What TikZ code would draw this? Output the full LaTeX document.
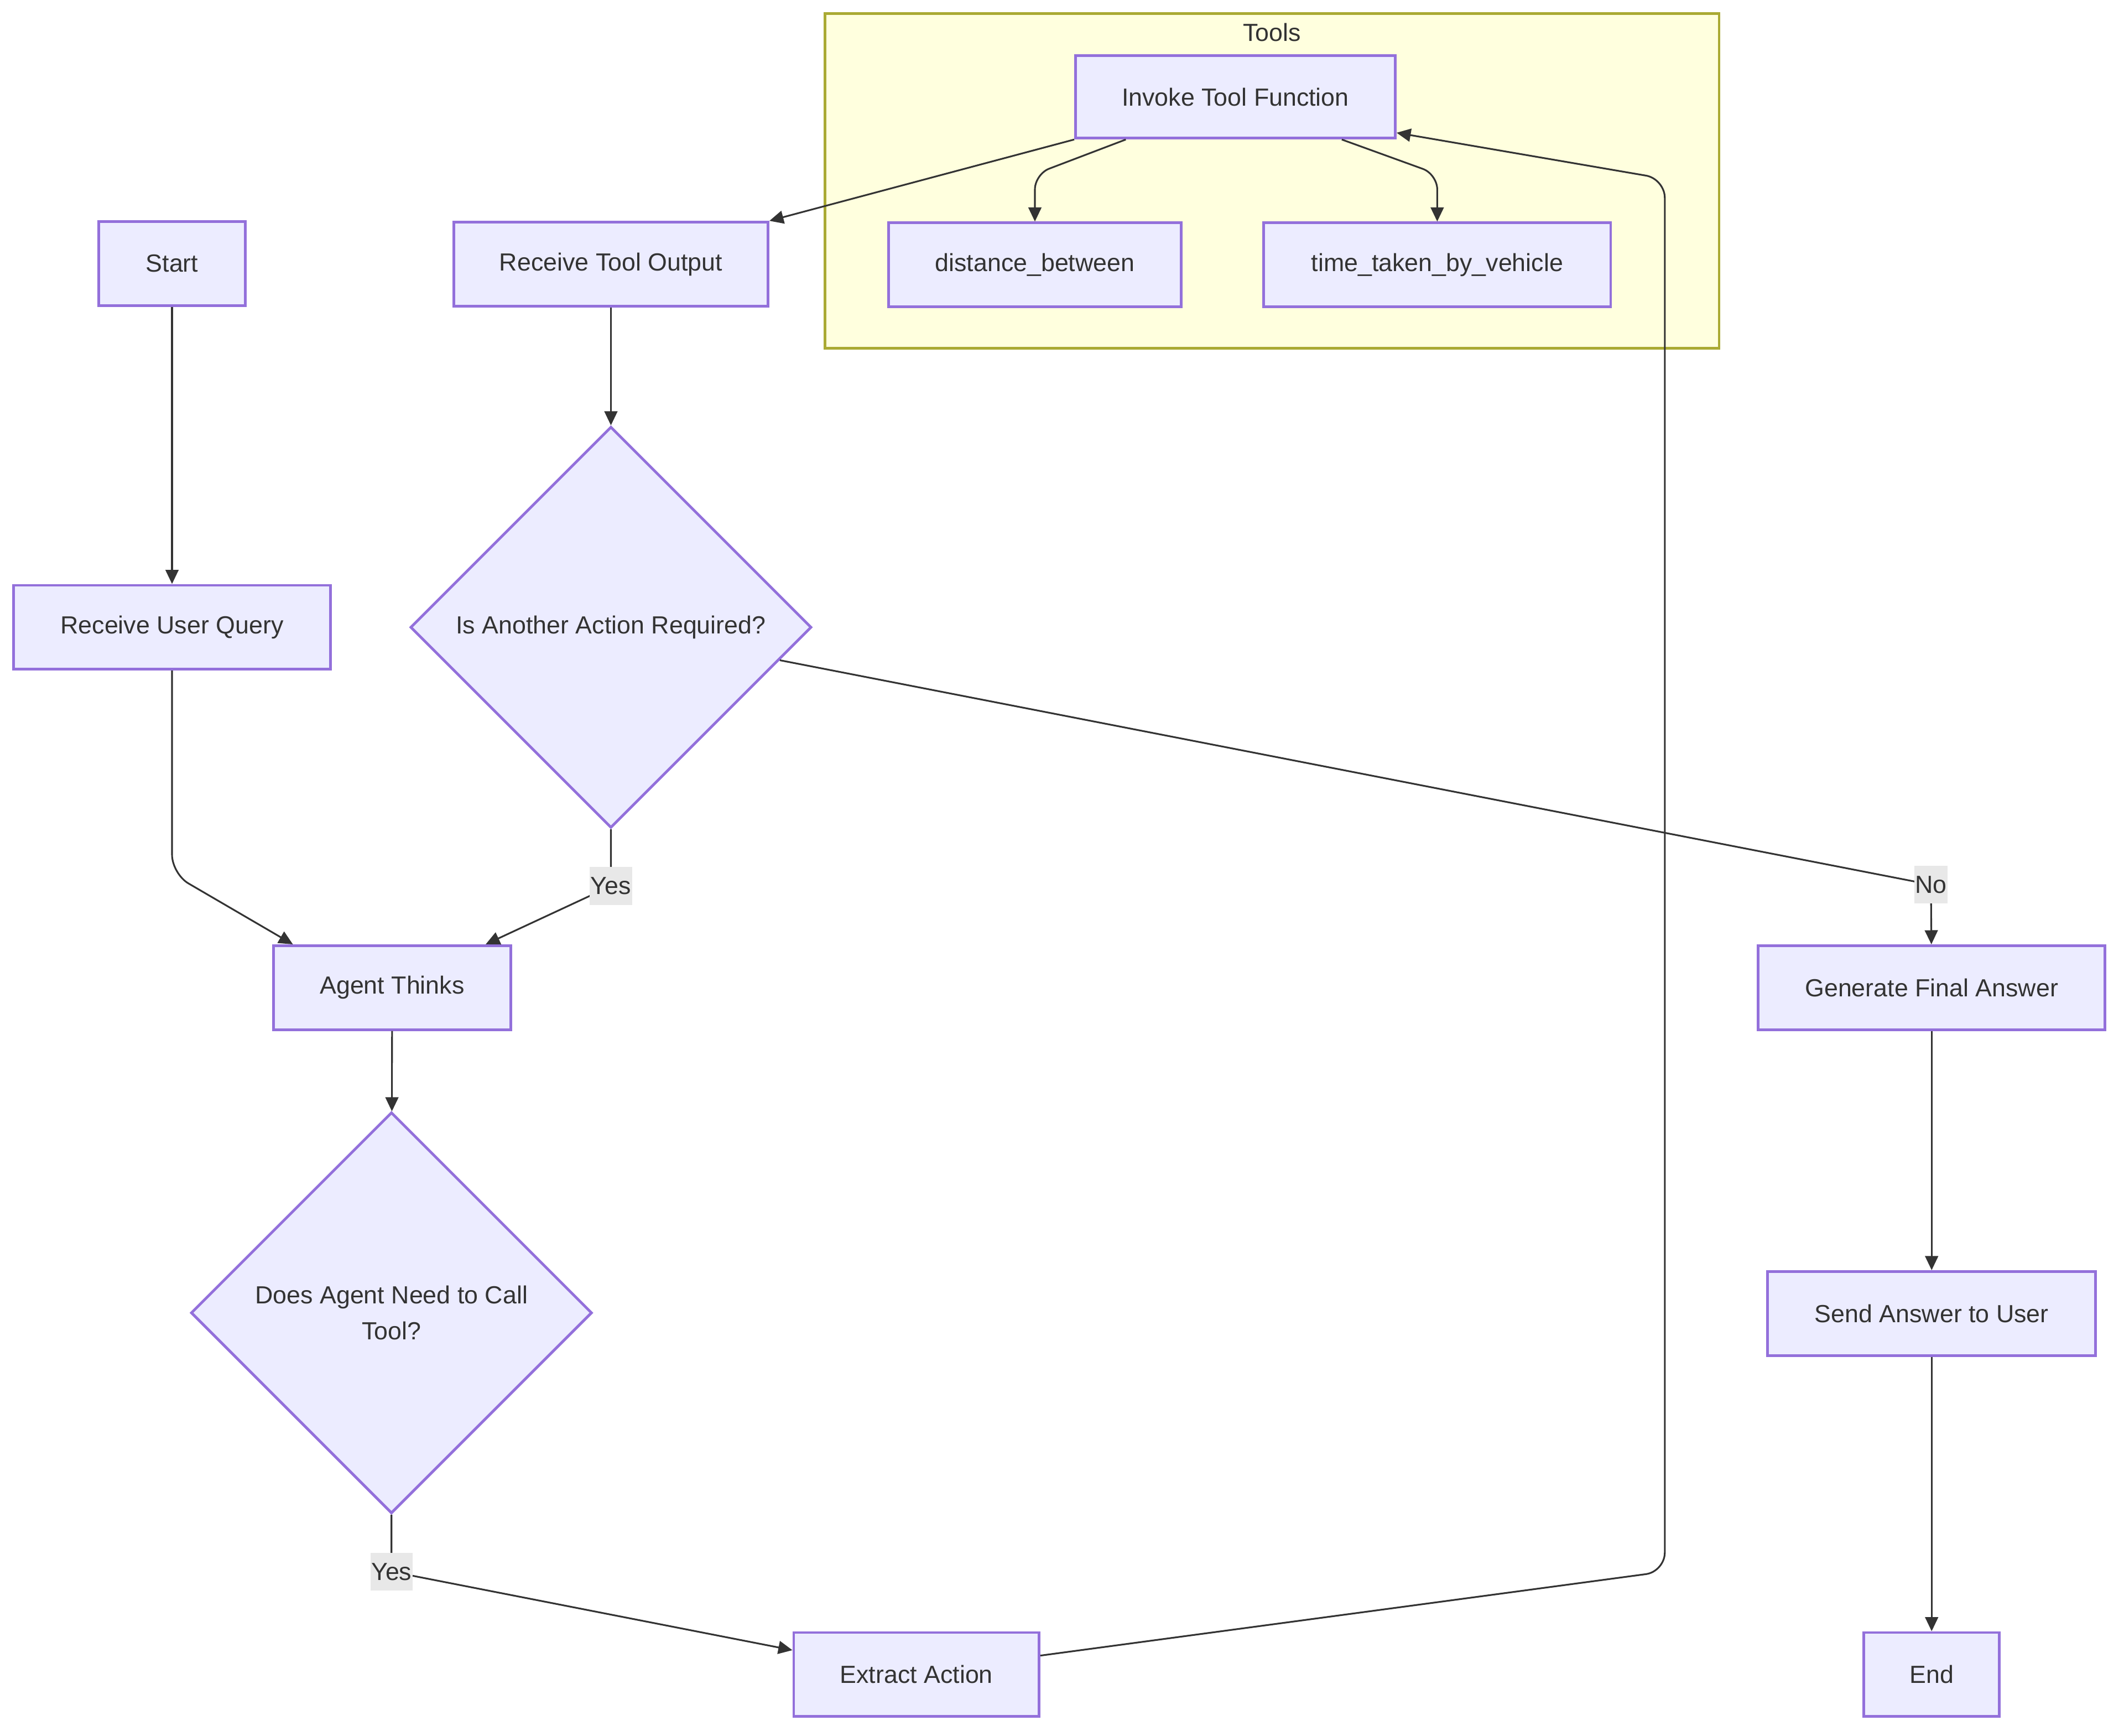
\documentclass[tikz,border=0pt]{standalone}
\usepackage{fontspec}
\setmainfont{Liberation Sans}
\usetikzlibrary{arrows.meta,shapes.geometric,calc}
\definecolor{lilac}{HTML}{ECECFF}
\definecolor{mauve}{HTML}{9370DB}
\definecolor{ink}{HTML}{333333}
\definecolor{lemon}{HTML}{FFFFDE}
\definecolor{moss}{HTML}{AAAA33}
\definecolor{chip}{HTML}{E8E8E8}
\tikzset{
  box/.style={draw=mauve, line width=1.4pt, fill=lilac, minimum height=15.5mm,
    align=center, font=\fontsize{13}{19}\selectfont, text=ink, inner sep=0pt},
  choice/.style={diamond, aspect=1, draw=mauve, line width=1.4pt, fill=lilac,
    minimum width=74mm, minimum height=74mm, align=center,
    font=\fontsize{13}{19}\selectfont, text=ink, inner sep=0pt},
  arrow/.style={-{Triangle[length=2.6mm,width=2.4mm]}, line width=.9pt, draw=ink},
  tag/.style={fill=chip, sharp corners, font=\fontsize{13}{19}\selectfont, text=ink,
    inner xsep=.5pt, inner ysep=0pt, minimum height=7mm},
  cluster/.style={draw=moss, fill=lemon, line width=1.4pt}
}
\begin{document}
\begin{tikzpicture}[x=0.025cm,y=-0.025cm]
  \useasboundingbox (0,0) rectangle (1568,1281);

  \node[cluster,minimum width=165mm,minimum height=61.75mm] (tools) at (939,133.5) {};
  \node[font=\fontsize{13}{19}\selectfont,text=ink] (toolsname) at (939,24) {Tools};

  \node[box,minimum width=27mm] (start) at (127,194.5) {Start};
  \node[box,minimum width=58.5mm] (query) at (127,463) {Receive User Query};
  \node[box,minimum width=43.75mm] (think) at (289.5,729) {Agent Thinks};
  \node[choice] (needtool) at (289,969) {Does Agent Need to Call\\Tool?};
  \node[box,minimum width=45.25mm] (extract) at (676.5,1236) {Extract Action};

  \node[box,minimum width=59mm,minimum height=15.25mm] (invoke) at (912,71.5) {Invoke Tool Function};
  \node[box,minimum width=58mm] (output) at (451,195) {Receive Tool Output};
  \node[box,minimum width=54mm] (distance) at (764,195.5) {distance\_between};
  \node[box,minimum width=64mm] (timetaken) at (1061,195.5) {time\_taken\_by\_vehicle};
  \node[choice] (another) at (451,463) {Is Another Action Required?};

  \node[box,minimum width=64mm] (final) at (1426,729) {Generate Final Answer};
  \node[box,minimum width=60.5mm] (send) at (1426,969.5) {Send Answer to User};
  \node[box,minimum width=25mm] (finish) at (1426,1236) {End};

  \coordinate (nobend) at (1425.5,653);
  \coordinate (loopbot) at (1229,1160);
  \coordinate (looptop) at (1229,132);

  \draw[arrow] (start) -- (query);
  \draw[arrow,rounded corners=10pt] (query.south) -- ++(0,150)
    -- ($(think.north west)!.086!(think.north east)$);
  \draw[arrow] (think) -- (needtool);
  \draw[arrow,rounded corners=8pt] (needtool.south) -- ++(0,42) node[tag] {Yes}
    -- ([yshift=4.5mm]extract.west);
  \draw[arrow,rounded corners=10pt] ([yshift=3.5mm]extract.east) -- (loopbot)
    -- (looptop) -- ([yshift=1.25mm]invoke.south east);
  \draw[arrow] (invoke.south west) -- (output.north east);
  \draw[arrow,rounded corners=8pt] ($(invoke.south west)!.16!(invoke.south east)$)
    -- ($(distance.north)+(0,-35)$) -- (distance.north);
  \draw[arrow,rounded corners=8pt] ($(invoke.south west)!.83!(invoke.south east)$)
    -- ($(timetaken.north)+(0,-35)$) -- (timetaken.north);
  \draw[arrow] (output) -- (another);
  \draw[arrow,rounded corners=8pt] (another.south) -- ++(0,42) node[tag] {Yes}
    -- ($(think.north west)!.89!(think.north east)$);
  \draw[arrow] (another) -- (nobend) node[tag] {No} -- (final);
  \draw[arrow] (final) -- (send);
  \draw[arrow] (send) -- (finish);
\end{tikzpicture}
\end{document}
